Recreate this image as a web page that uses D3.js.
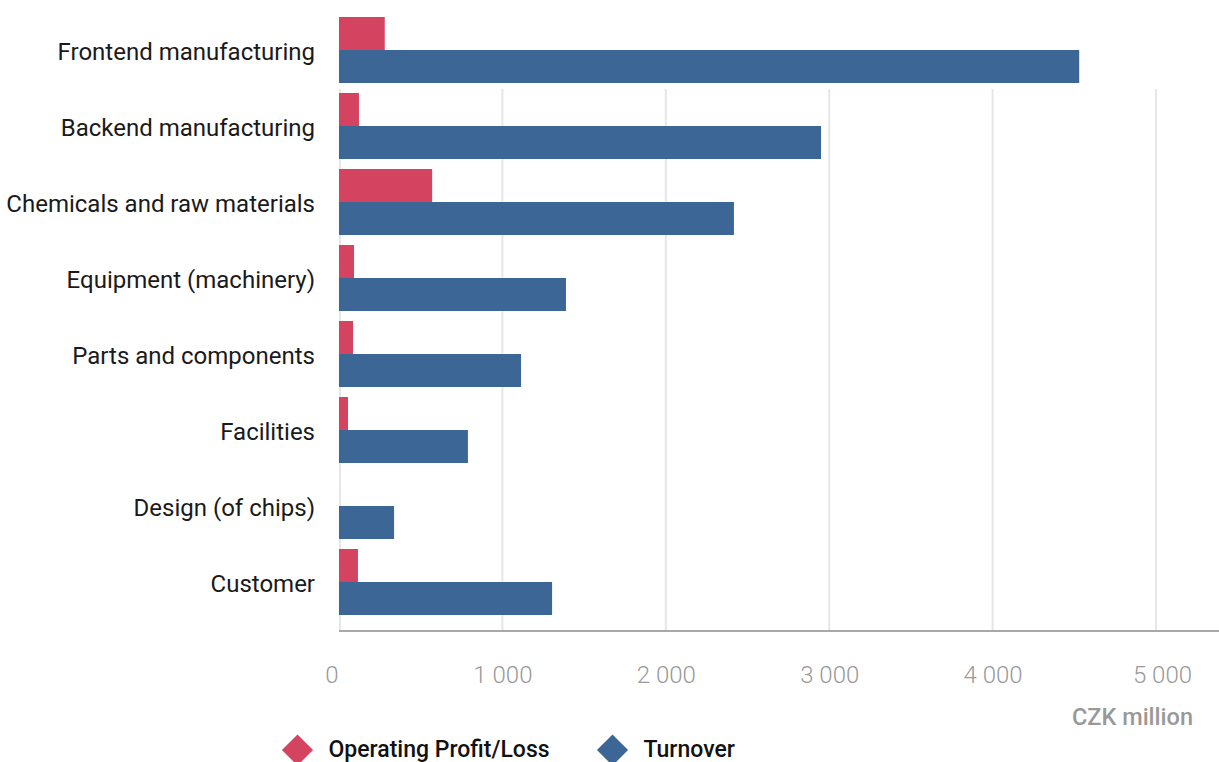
<!DOCTYPE html>
<html>
<head>
<meta charset="utf-8">
<script src="https://cdn.jsdelivr.net/npm/d3@7"></script>
<style>
  html, body { margin: 0; padding: 0; background: #fff; }
  svg { display: block; font-family: Roboto, "Noto Sans", sans-serif; }
</style>
</head>
<body>
<svg id="chart" width="1219" height="762"></svg>
<script>
// Semiconductor value-chain segments, CZK million
const categories = [
  "Frontend manufacturing",
  "Backend manufacturing",
  "Chemicals and raw materials",
  "Equipment (machinery)",
  "Parts and components",
  "Facilities",
  "Design (of chips)",
  "Customer"
];
const operatingProfit = [280, 122, 570, 92, 86, 55, 0, 116];
const turnover = [4530, 2950, 2417, 1389, 1114, 789, 337, 1304];
const seriesNames = ["Operating Profit/Loss", "Turnover"];
const seriesColors = ["#D44460", "#3B6696"];
const xTicks = [0, 1000, 2000, 3000, 4000, 5000];
const unitLabel = "CZK million";

const svg = d3.select("#chart");

const plot = { left: 339, right: 1219, top: 12, bottom: 620, axisY: 631, gridTop: 89 };

const x = d3.scaleLinear().domain([0, 5000]).range([plot.left, 1156]);

const y = d3.scaleBand()
  .domain(categories)
  .range([plot.top, plot.bottom])
  .paddingInner(10 / 76)
  .paddingOuter(5 / 76);

const ySub = d3.scaleBand()
  .domain(seriesNames)
  .range([0, y.bandwidth()]);

const fmt = v => d3.format(",")(v).replace(/,/g, " ");

// gridlines
svg.append("g")
  .selectAll("line")
  .data(xTicks)
  .join("line")
  .attr("x1", d => x(d) + (d === 0 ? 1 : 0))
  .attr("x2", d => x(d) + (d === 0 ? 1 : 0))
  .attr("y1", plot.gridTop)
  .attr("y2", plot.axisY)
  .attr("stroke", "#e6e6e6")
  .attr("stroke-width", 2);

// bars
const rows = categories.map((c, i) => ({
  cat: c,
  values: [operatingProfit[i], turnover[i]]
}));

const groups = svg.append("g")
  .selectAll("g")
  .data(rows)
  .join("g")
  .attr("transform", d => `translate(0,${y(d.cat)})`);

groups.selectAll("rect")
  .data(d => d.values.map((v, k) => ({ v, k })))
  .join("rect")
  .attr("x", d => x(Math.min(0, d.v)))
  .attr("width", d => Math.abs(x(d.v) - x(0)))
  .attr("y", d => ySub(seriesNames[d.k]))
  .attr("height", ySub.bandwidth())
  .attr("fill", d => seriesColors[d.k]);

// category labels
svg.append("g")
  .selectAll("text")
  .data(categories)
  .join("text")
  .attr("x", 315)
  .attr("y", d => y(d) + y.bandwidth() / 2)
  .attr("dy", "0.42em")
  .attr("text-anchor", "end")
  .attr("font-size", 24)
  .attr("fill", "#1a1a1a")
  .text(d => d);

// x axis
const xAxis = d3.axisBottom(x)
  .tickValues(xTicks)
  .tickSize(0)
  .tickPadding(0)
  .tickFormat(fmt);

const axisG = svg.append("g")
  .attr("transform", `translate(0,${plot.axisY})`)
  .call(xAxis);
axisG.select(".domain").remove();
axisG.selectAll("text")
  .attr("y", 52)
  .attr("dy", 0)
  .attr("font-family", "Roboto, sans-serif")
  .attr("font-size", 24)
  .attr("font-weight", 300)
  .attr("fill", "#999999");
// keep the end labels inside the plot edges
axisG.selectAll(".tick text")
  .filter(d => d === xTicks[0])
  .attr("text-anchor", "end")
  .attr("dx", -1);
axisG.selectAll(".tick text")
  .filter(d => d === xTicks[xTicks.length - 1])
  .attr("dx", 6);

svg.append("line")
  .attr("x1", plot.left)
  .attr("x2", plot.right)
  .attr("y1", plot.axisY)
  .attr("y2", plot.axisY)
  .attr("stroke", "#a8a8a8")
  .attr("stroke-width", 2);

svg.append("text")
  .attr("x", 1193)
  .attr("y", 725)
  .attr("text-anchor", "end")
  .attr("font-size", 23.5)
  .attr("font-weight", 500)
  .attr("fill", "#999999")
  .text(unitLabel);

// legend
const legendX = [297.5, 612.5];
const legend = svg.append("g")
  .selectAll("g")
  .data(seriesNames)
  .join("g")
  .attr("transform", (d, i) => `translate(${legendX[i]},750)`);

legend.append("rect")
  .attr("x", -11)
  .attr("y", -11)
  .attr("width", 22)
  .attr("height", 22)
  .attr("transform", "rotate(45)")
  .attr("fill", (d, i) => seriesColors[i]);

legend.append("text")
  .attr("x", 31)
  .attr("y", 7)
  .attr("font-size", 23)
  .attr("font-weight", 500)
  .attr("fill", "#111")
  .text(d => d);
</script>
</body>
</html>
